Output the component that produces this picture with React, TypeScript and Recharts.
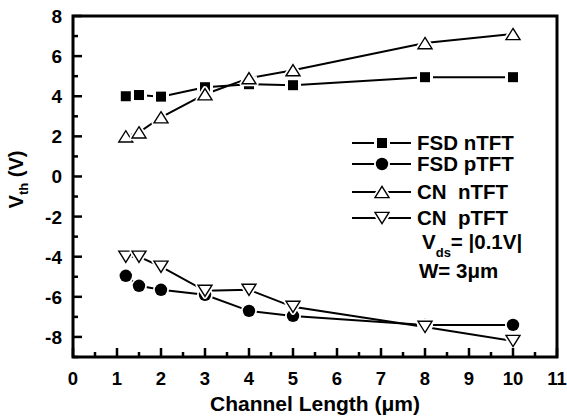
import React from "react";
import { LineChart, Line, XAxis, YAxis, ReferenceArea } from "recharts";

const lengths = [1.2, 1.5, 2, 3, 4, 5, 8, 10];
const fsdN = [4.0, 4.06, 3.98, 4.45, 4.6, 4.55, 4.95, 4.95];
const fsdP = [-4.95, -5.45, -5.65, -5.9, -6.7, -6.95, -7.4, -7.4];
const cnN = [2.0, 2.2, 2.95, 4.1, 4.9, 5.3, 6.65, 7.1];
const cnP = [-4.0, -4.0, -4.5, -5.7, -5.65, -6.5, -7.5, -8.2];

const seriesNames = ["FSD nTFT", "FSD pTFT", "CN  nTFT", "CN  pTFT"];
const xTicks = Array.from({ length: 23 }, (_, i) => i * 0.5);
const yTicks = Array.from({ length: 18 }, (_, i) => i - 9);

const data = lengths.map((L, i) => ({
  L,
  fsdN: fsdN[i],
  fsdP: fsdP[i],
  cnN: cnN[i],
  cnP: cnP[i],
}));

const FONT = "'Liberation Sans', Arial, Helvetica, sans-serif";

const SquareMark = ({ cx, cy }: any) => (
  <g>
    <rect x={cx - 8} y={cy - 8} width={16} height={16} fill="#fff" />
    <rect x={cx - 5} y={cy - 5} width={10} height={10} fill="#000" />
  </g>
);
const CircleMark = ({ cx, cy }: any) => (
  <g>
    <circle cx={cx} cy={cy} r={8} fill="#fff" />
    <circle cx={cx} cy={cy} r={6.2} fill="#000" />
  </g>
);
const triPoints = (cx: number, cy: number, up: boolean) => {
  const w = 7;
  const h = 5.6;
  return up
    ? `${cx},${cy - h} ${cx + w},${cy + h} ${cx - w},${cy + h}`
    : `${cx},${cy + h} ${cx + w},${cy - h} ${cx - w},${cy - h}`;
};
const TriMark = ({ cx, cy, up }: any) => (
  <g>
    <polygon points={triPoints(cx, cy, up)} fill="#fff" stroke="#fff" strokeWidth={5} strokeLinejoin="round" />
    <polygon points={triPoints(cx, cy, up)} fill="#fff" stroke="#000" strokeWidth={1.4} />
  </g>
);

const XTick = ({ x, y, payload }: any) => {
  const v = payload.value;
  const major = Number.isInteger(v);
  return (
    <g>
      <line x1={x} x2={x} y1={y} y2={y - (major ? 9 : 5)} stroke="#000" strokeWidth={2.5} />
      {major && (
        <text x={x} y={y + 28} textAnchor="middle" fontFamily={FONT} fontWeight="bold" fontSize={18.5} fill="#000">
          {v}
        </text>
      )}
    </g>
  );
};

const YTick = ({ x, y, payload }: any) => {
  const v = payload.value;
  const major = v % 2 === 0;
  return (
    <g>
      <line x1={x} x2={x + (major ? 9 : 5)} y1={y} y2={y} stroke="#000" strokeWidth={2.5} />
      {major && (
        <text x={x - 11} y={y + 7} textAnchor="end" fontFamily={FONT} fontWeight="bold" fontSize={19} fill="#000">
          {v}
        </text>
      )}
    </g>
  );
};

const XLabel = ({ viewBox }: any) => {
  const { x, y, width } = viewBox;
  return (
    <text x={x + width / 2} y={y + 54} textAnchor="middle" fontFamily={FONT} fontWeight="bold" fontSize={21} fill="#000">
      Channel Length (μm)
    </text>
  );
};

const YLabel = ({ viewBox }: any) => {
  const { y, height } = viewBox;
  const cx = 23;
  const cy = y + height / 2 - 7;
  return (
    <text
      x={cx}
      y={cy}
      transform={`rotate(-90, ${cx}, ${cy})`}
      textAnchor="middle"
      fontFamily={FONT}
      fontWeight="bold"
      fontSize={20}
      fill="#000"
    >
      <tspan>V</tspan>
      <tspan fontSize={13} dy={5}>th</tspan>
      <tspan dy={-5}> (V)</tspan>
    </text>
  );
};

const legendRows = [143, 164, 192, 218];

const Legend = () => (
  <svg width={567} height={418} style={{ position: "absolute", left: 0, top: 0, pointerEvents: "none" }}>
    {seriesNames.map((name, i) => {
      const y = legendRows[i];
      const mx = 382;
      return (
        <g key={name}>
          <line x1={352} x2={411} y1={y} y2={y} stroke="#000" strokeWidth={2} />
          {i === 0 && <SquareMark cx={mx} cy={y} />}
          {i === 1 && <CircleMark cx={mx} cy={y} />}
          {i === 2 && <TriMark cx={mx} cy={y} up />}
          {i === 3 && <TriMark cx={mx} cy={y} up={false} />}
          <text x={417} y={y + 6.5} fontFamily={FONT} fontWeight="bold" fontSize={20.5} fill="#000" style={{ whiteSpace: "pre" }}>
            {name}
          </text>
        </g>
      );
    })}
    <text x={422} y={249} fontFamily={FONT} fontWeight="bold" fontSize={20.5} fill="#000">
      <tspan>V</tspan>
      <tspan fontSize={13} dy={8}>ds</tspan>
      <tspan dy={-8}>= |0.1V|</tspan>
    </text>
    <text x={419} y={278} fontFamily={FONT} fontWeight="bold" fontSize={20.5} fill="#000">
      W= 3μm
    </text>
  </svg>
);

export default function App() {
  return (
    <div style={{ position: "absolute", left: 0, top: 0, width: 567, height: 418, background: "#fff" }}>
      <LineChart width={567} height={418} data={data} margin={{ top: 16, right: 10, left: 0, bottom: 0 }}>
        <XAxis
          dataKey="L"
          type="number"
          domain={[0, 11]}
          ticks={xTicks}
          interval={0}
          tick={<XTick />}
          tickLine={false}
          tickSize={0}
          tickMargin={0}
          axisLine={false}
          height={61}
          label={<XLabel />}
        />
        <YAxis
          type="number"
          domain={[-9, 8]}
          ticks={yTicks}
          interval={0}
          tick={<YTick />}
          tickLine={false}
          tickSize={0}
          tickMargin={0}
          axisLine={false}
          width={73}
          label={<YLabel />}
        />
        <ReferenceArea x1={0} x2={11} y1={-9} y2={8} fill="none" stroke="#000" strokeWidth={3} fillOpacity={0} />
        <Line dataKey="fsdN" stroke="#000" strokeWidth={2} isAnimationActive={false}
          dot={(p: any) => <SquareMark key={`a${p.index}`} cx={p.cx} cy={p.cy} />} />
        <Line dataKey="cnN" stroke="#000" strokeWidth={2} isAnimationActive={false}
          dot={(p: any) => <TriMark key={`c${p.index}`} cx={p.cx} cy={p.cy} up />} />
        <Line dataKey="fsdP" stroke="#000" strokeWidth={2} isAnimationActive={false}
          dot={(p: any) => <CircleMark key={`b${p.index}`} cx={p.cx} cy={p.cy} />} />
        <Line dataKey="cnP" stroke="#000" strokeWidth={2} isAnimationActive={false}
          dot={(p: any) => <TriMark key={`d${p.index}`} cx={p.cx} cy={p.cy} up={false} />} />
      </LineChart>
      <Legend />
    </div>
  );
}
